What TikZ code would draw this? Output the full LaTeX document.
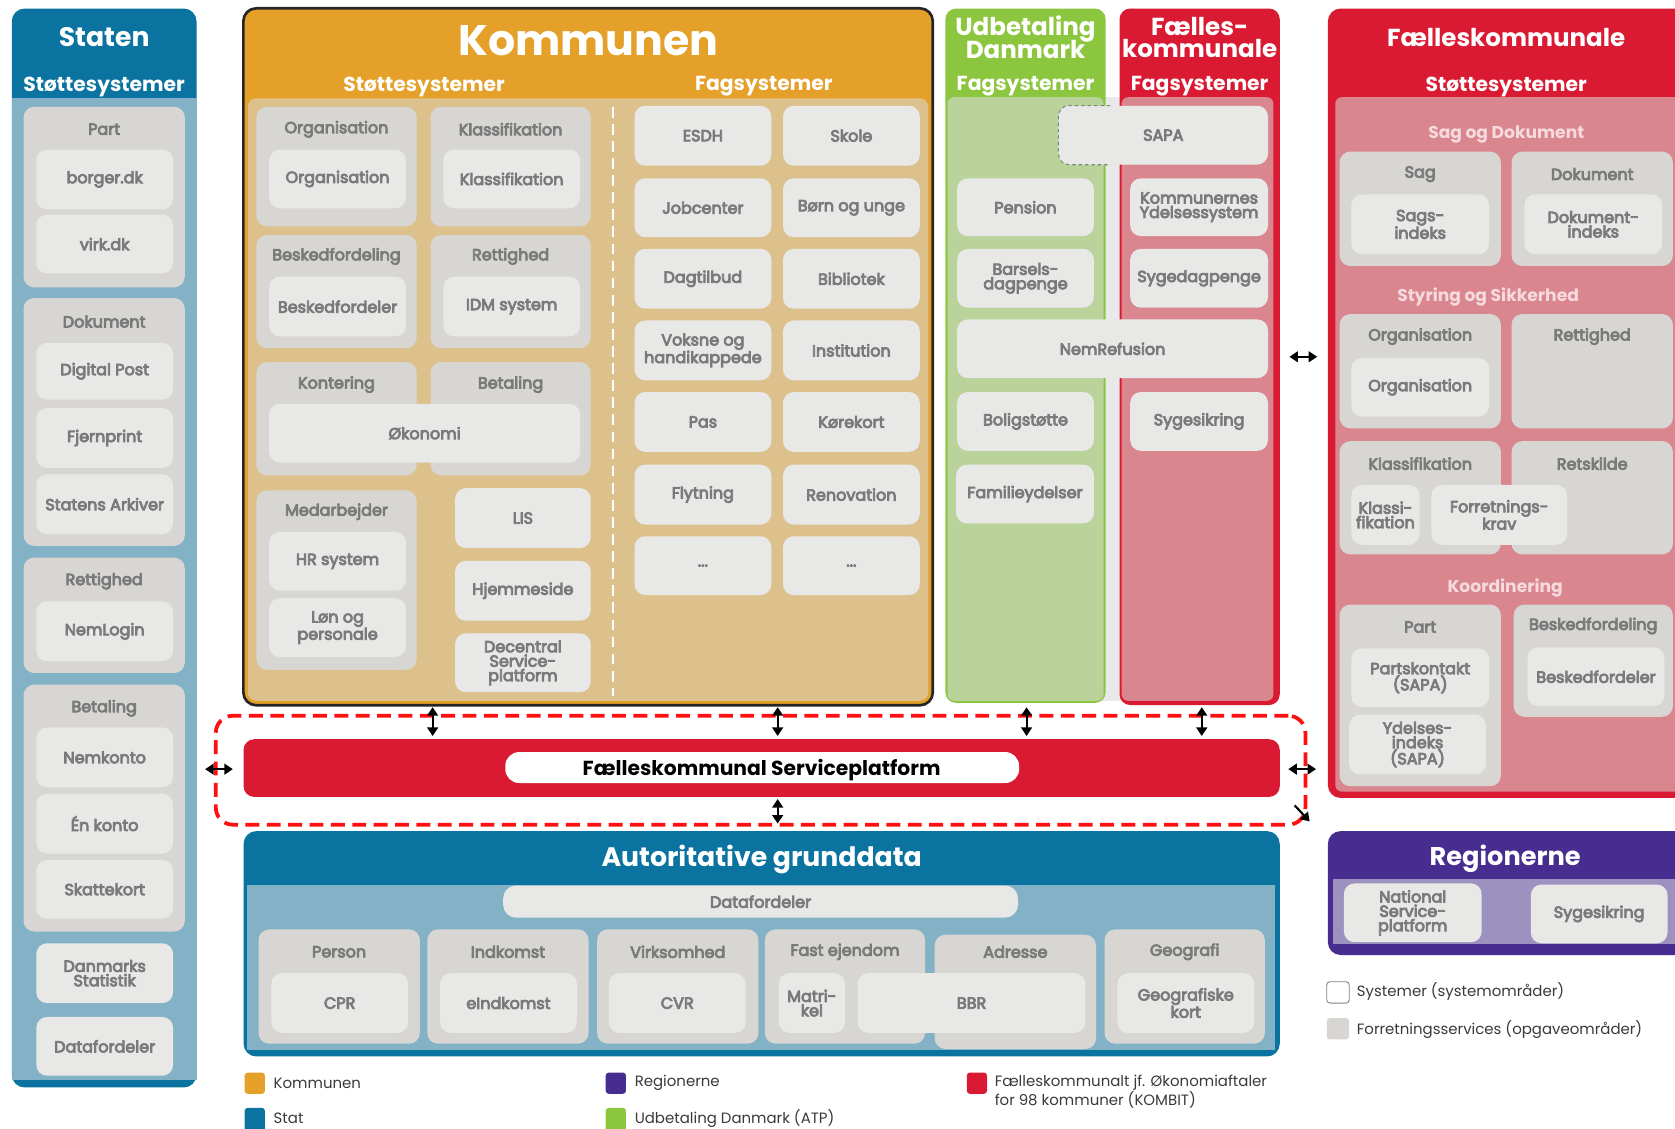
\documentclass[tikz,border=0pt]{standalone}
\usepackage{fontspec}
\setmainfont{Poppins}
\newfontfamily\lbf{Poppins}[FakeBold=5]
\usetikzlibrary{arrows.meta}
\definecolor{statdark}{HTML}{0B73A0}
\definecolor{statlight}{HTML}{83B2C6}
\definecolor{grp}{HTML}{D8D6D3}
\definecolor{inner}{HTML}{E8E8E7}
\definecolor{txtg}{HTML}{7A7A7A}
\definecolor{kor}{HTML}{E4A029}
\definecolor{ktan}{HTML}{DDC18D}
\definecolor{udg}{HTML}{8CC63F}
\definecolor{udl}{HTML}{B9D39A}
\definecolor{fred}{HTML}{DA1A32}
\definecolor{fpink}{HTML}{D9868F}
\definecolor{rpur}{HTML}{472D8F}
\definecolor{rlight}{HTML}{9D91C0}
\definecolor{dashred}{HTML}{FF1010}
\definecolor{gapg}{HTML}{E9E9E9}
\definecolor{sect}{HTML}{F6DADE}
\definecolor{legt}{HTML}{3A3A3A}
\tikzset{
  plain/.style={inner sep=0pt},
  grpbox/.style={fill=grp, rounded corners=10pt, inner sep=0pt},
  inbox/.style={fill=inner, rounded corners=10pt, inner sep=0pt, text=txtg,
    font=\lbf\fontsize{15}{13.5}\selectfont, align=center},
  glabel/.style={text=txtg, font=\lbf\fontsize{15}{15}\selectfont, inner sep=0pt},
  ttl/.style={text=white, font=\bfseries\fontsize{#1}{#1}\selectfont, inner sep=0pt, align=center},
  sectl/.style={text=sect, font=\bfseries\fontsize{16}{16}\selectfont, inner sep=0pt},
  legtxt/.style={text=legt, font=\fontsize{14}{18}\selectfont, inner sep=0pt, anchor=west, align=left},
  legsq/.style={rounded corners=3pt, inner sep=0pt},
  dbl/.style={{Triangle[length=8pt,width=10pt]}-{Triangle[length=8pt,width=10pt]}, line width=2pt, black},
  sgl/.style={-{Triangle[length=8pt,width=10pt]}, line width=2pt, black},
}
\newcommand\bx[7]{\node[#1,minimum width={(#5)*1pt-(#3)*1pt},minimum height={(#6)*1pt-(#4)*1pt}] (#2) at ({((#3)+(#5))/2},{((#4)+(#6))/2}) {#7};}
\newcommand\grp[7]{\bx{grpbox}{#1}{#2}{#3}{#4}{#5}{}\node[glabel] (#1l) at ({((#2)+(#4))/2},#6) {#7};}
\begin{document}
\begin{tikzpicture}[x=1pt,y=-1pt]
\useasboundingbox (0,0) rectangle (1568,1056);
\clip (0,0) rectangle (1568,1056);
\fill[white] (0,0) rectangle (1568,1056);

% ---------------- Staten
\bx{fill=statdark,rounded corners=12pt,plain}{staten}{11}{8}{184}{1018}{}
\bx{fill=statlight,plain}{statenp}{11}{92}{184}{1011}{}
\node[ttl=25] (statent) at (97.5,35) {Staten};
\node[ttl=19] (statens) at (97.5,81) {Støttesystemer};
\grp{spart}{22}{100}{173}{269}{121}{Part}
\bx{inbox}{borger}{34}{140}{162}{196}{borger.dk}
\bx{inbox}{virk}{34}{201}{162}{256}{virk.dk}
\grp{sdok}{22}{279}{173}{511}{301}{Dokument}
\bx{inbox}{dpost}{34}{321}{162}{374}{Digital Post}
\bx{inbox}{fjern}{34}{382}{162}{438}{Fjernprint}
\bx{inbox}{sark}{34}{444}{162}{500}{Statens Arkiver}
\grp{sret}{22}{522}{173}{630}{544}{Rettighed}
\bx{inbox}{nemlog}{34}{563}{162}{619}{NemLogin}
\grp{sbet}{22}{641}{173}{872}{663}{Betaling}
\bx{inbox}{nemk}{34}{681}{162}{737}{Nemkonto}
\bx{inbox}{enk}{34}{743}{162}{799}{Én konto}
\bx{inbox}{skat}{34}{805}{162}{860}{Skattekort}
\bx{inbox}{dst}{34}{883}{162}{939}{Danmarks\\Statistik}
\bx{inbox}{sdf}{34}{952}{162}{1007}{Datafordeler}

% ---------------- Kommunen
\bx{fill=kor,rounded corners=12pt,plain}{kommunen}{228}{8}{873}{660}{}
\bx{fill=ktan,rounded corners=8pt,plain}{kpanel}{232}{92}{869}{656}{}
\draw[line width=2.5pt, black!85, rounded corners=12pt] (kommunen.north west) rectangle (kommunen.south east);
\node[ttl=40] (kommt) at (551,38) {Kommunen};
\node[ttl=19] (komms) at (397,81) {Støttesystemer};
\node[ttl=19] (kommf) at (715,81) {Fagsystemer};
\coordinate (divt) at (574,100);
\coordinate (divb) at (574,652);
\draw[white, line width=2pt, dash pattern=on 10pt off 6pt] (divt) -- (divb);
\grp{korg}{240}{100}{390}{212}{121}{Organisation}
\bx{inbox}{korgi}{252}{140}{380}{195}{Organisation}
\grp{kkla}{403}{100}{553}{212}{121}{Klassifikation}
\bx{inbox}{kklai}{415}{140}{543}{195}{Klassifikation}
\grp{kbesk}{240}{220}{390}{326}{240}{Beskedfordeling}
\bx{inbox}{kbeski}{252}{259}{380}{315}{Beskedfordeler}
\grp{kret}{403}{220}{553}{326}{240}{Rettighed}
\bx{inbox}{kreti}{415}{259}{543}{315}{IDM system}
\grp{kkont}{240}{339}{390}{445}{360}{Kontering}
\grp{kbet}{403}{339}{553}{445}{360}{Betaling}
\bx{inbox}{koko}{252}{378}{543}{433}{Økonomi}
\grp{kmed}{240}{459}{390}{627}{479}{Medarbejder}
\bx{inbox}{khr}{252}{498}{380}{553}{HR system}
\bx{inbox}{klon}{252}{560}{380}{615}{Løn og\\personale}
\bx{inbox}{klis}{426}{457}{553}{513}{LIS}
\bx{inbox}{khj}{426}{525}{553}{581}{Hjemmeside}
\bx{inbox}{kdsp}{426}{593}{553}{648}{Decentral\\Service-\\platform}
% Fagsystemer
\bx{inbox}{esdh}{594}{99}{722}{155}{ESDH}
\bx{inbox}{skole}{733}{99}{861}{155}{Skole}
\bx{inbox}{jobc}{594}{167}{722}{222}{Jobcenter}
\bx{inbox}{born}{733}{167}{861}{222}{Børn og unge}
\bx{inbox}{dagt}{594}{233}{722}{289}{Dagtilbud}
\bx{inbox}{bibl}{733}{233}{861}{289}{Bibliotek}
\bx{inbox}{voks}{594}{300}{722}{356}{Voksne og\\handikappede}
\bx{inbox}{inst}{733}{300}{861}{356}{Institution}
\bx{inbox}{pas}{594}{367}{722}{423}{Pas}
\bx{inbox}{kore}{733}{367}{861}{423}{Kørekort}
\bx{inbox}{flyt}{594}{435}{722}{491}{Flytning}
\bx{inbox}{reno}{733}{435}{861}{491}{Renovation}
\bx{inbox}{dots1}{594}{502}{722}{557}{...}
\bx{inbox}{dots2}{733}{502}{861}{557}{...}

% ---------------- Udbetaling Danmark
\bx{fill=gapg,plain}{gap}{1030}{91}{1054}{656}{}
\bx{fill=udg,rounded corners=10pt,plain}{udb}{885}{8}{1035}{658}{}
\bx{fill=udl,rounded corners=6pt,plain}{udbp}{887}{91}{1033}{656}{}
\node[ttl=23] (udbt) at (960,35) {Udbetaling\\[-3pt]Danmark};
\node[ttl=19] (udbs) at (960,81) {Fagsystemer};
% ---------------- Fælleskommunale fagsystemer
\bx{fill=fred,rounded corners=10pt,plain}{fkf}{1048}{8}{1198}{660}{}
\bx{fill=fpink,rounded corners=6pt,plain}{fkfp}{1050}{91}{1192}{656}{}
\node[ttl=23] (fkft) at (1123,35) {Fælles-\\[-3pt]kommunale};
\node[ttl=19] (fkfs) at (1123,81) {Fagsystemer};
\bx{inbox}{sapa}{991}{99}{1187}{154}{SAPA}
\begin{scope}
  \clip (985,90) rectangle (1040,160);
  \draw[dashed, gray, line width=1pt, rounded corners=10pt] (sapa.north west) rectangle (sapa.south east);
\end{scope}
\bx{inbox}{pens}{896}{167}{1024}{221}{Pension}
\bx{inbox}{bars}{896}{233}{1024}{288}{Barsels-\\dagpenge}
\bx{inbox}{nemref}{896}{299}{1187}{354}{NemRefusion}
\bx{inbox}{bolig}{896}{367}{1024}{422}{Boligstøtte}
\bx{inbox}{famy}{895}{435}{1024}{490}{Familieydelser}
\bx{inbox}{kys}{1058}{167}{1187}{221}{Kommunernes\\Ydelsessystem}
\bx{inbox}{sygd}{1058}{233}{1187}{288}{Sygedagpenge}
\bx{inbox}{sygs}{1058}{367}{1187}{422}{Sygesikring}

% ---------------- Fælleskommunale støttesystemer
\bx{fill=fred,rounded corners=12pt,plain}{fks}{1243}{8}{1600}{747}{}
\bx{fill=fpink,rounded corners=6pt,plain}{fksp}{1250}{91}{1600}{741}{}
\node[ttl=23] (fkst) at (1410,35) {Fælleskommunale};
\node[ttl=19] (fkss) at (1410,81) {Støttesystemer};
\node[sectl] (sagdok) at (1410,126) {Sag og Dokument};
\grp{fsag}{1254}{142}{1405}{249}{163}{Sag}
\bx{inbox}{fsagi}{1265}{182}{1394}{238}{Sags-\\indeks}
\grp{fdok}{1415}{142}{1566}{249}{163}{Dokument}
\bx{inbox}{fdoki}{1427}{182}{1556}{238}{Dokument-\\indeks}
\node[sectl] (stysik) at (1393,278) {Styring og Sikkerhed};
\grp{forg}{1254}{294}{1405}{401}{315}{Organisation}
\bx{inbox}{forgi}{1265}{335}{1394}{390}{Organisation}
\grp{fret}{1415}{294}{1566}{401}{315}{Rettighed}
\grp{fkla}{1254}{413}{1405}{519}{434}{Klassifikation}
\grp{frets}{1415}{413}{1566}{519}{434}{Retskilde}
\bx{inbox}{fklai}{1265}{454}{1329}{510}{Klassi-\\fikation}
\bx{inbox}{fforr}{1340}{454}{1467}{510}{Forretnings-\\krav}
\node[sectl] (koord) at (1409,550) {Koordinering};
\grp{fpart}{1254}{566}{1405}{736}{587}{Part}
\bx{inbox}{fpk}{1265}{607}{1394}{662}{Partskontakt\\(SAPA)}
\bx{inbox}{fyi}{1263}{669}{1391}{725}{Ydelses-\\indeks\\(SAPA)}
\grp{fbesk}{1417}{566}{1566}{671}{586}{Beskedfordeling}
\bx{inbox}{fbeski}{1430}{606}{1558}{661}{Beskedfordeler}

% ---------------- Regionerne
\bx{fill=rpur,rounded corners=12pt,plain}{reg}{1243}{778}{1600}{894}{}
\bx{fill=rlight,plain}{regp}{1248}{823}{1600}{884}{}
\node[ttl=24] (regt) at (1409,804) {Regionerne};
\bx{inbox}{nsp}{1258}{827}{1387}{882}{National\\Service-\\platform}
\bx{inbox}{rsyg}{1433}{828}{1561}{883}{Sygesikring}

% legend right
\bx{legsq,draw=gray,line width=0.8pt,fill=white}{lsys}{1242}{919}{1263}{939}{}
\node[legtxt] (lsyst) at (1270,928) {Systemer (systemområder)};
\bx{legsq,fill=grp}{lfor}{1242}{953}{1263}{973}{}
\node[legtxt] (lfort) at (1270,964) {Forretningsservices (opgaveområder)};

% ---------------- Serviceplatform
\bx{draw=dashred,line width=3.5pt,dash pattern=on 13pt off 7pt,rounded corners=16pt,plain}{fspd}{202}{670}{1222}{772}{}
\bx{fill=fred,rounded corners=10pt,plain}{fsp}{228}{692}{1198}{746}{}
\bx{fill=white,rounded corners=13pt,plain}{fspi}{473}{704}{954}{733}{}
\node[inner sep=0pt,font=\bfseries\fontsize{19}{19}\selectfont] (fspt) at (713,721) {Fælleskommunal Serviceplatform};

% arrows
\coordinate (a1t) at (405,662); \coordinate (a1b) at (405,689);
\coordinate (a2t) at (728,662); \coordinate (a2b) at (728,689);
\coordinate (a3t) at (961,662); \coordinate (a3b) at (961,689);
\coordinate (a4t) at (1125,662); \coordinate (a4b) at (1125,689);
\draw[dbl] (a1t) -- (a1b);
\draw[dbl] (a2t) -- (a2b);
\draw[dbl] (a3t) -- (a3b);
\draw[dbl] (a4t) -- (a4b);
\coordinate (a5t) at (728,748); \coordinate (a5b) at (728,771);
\draw[dbl] (a5t) -- (a5b);
\coordinate (a6l) at (192,720); \coordinate (a6r) at (218,720);
\draw[dbl] (a6l) -- (a6r);
\coordinate (a7l) at (1206,720); \coordinate (a7r) at (1232,720);
\draw[dbl] (a7l) -- (a7r);
\coordinate (a8l) at (1207,334); \coordinate (a8r) at (1233,334);
\draw[dbl] (a8l) -- (a8r);
\coordinate (a9s) at (1212,754); \coordinate (a9e) at (1226,769);
\draw[sgl] (a9s) -- (a9e);

% ---------------- Autoritative grunddata
\bx{fill=statdark,rounded corners=12pt,plain}{agd}{228}{778}{1198}{989}{}
\bx{fill=statlight,plain}{agdp}{231}{828}{1194}{983}{}
\node[ttl=25] (agdt) at (713,805) {Autoritative grunddata};
\bx{inbox,rounded corners=12pt}{adf}{471}{829}{953}{859}{Datafordeler}
\grp{gper}{242}{870}{393}{977}{891}{Person}
\grp{gind}{400}{870}{551}{977}{891}{Indkomst}
\grp{gvir}{559}{870}{710}{977}{891}{Virksomhed}
\grp{gfast}{716}{870}{866}{977}{891}{Fast ejendom}
\grp{gadr}{875}{875}{1026}{982}{891}{Adresse}
\grp{ggeo}{1034}{870}{1184}{977}{891}{Geografi}
\bx{inbox}{cpr}{254}{911}{382}{967}{CPR}
\bx{inbox}{eink}{412}{911}{540}{967}{eIndkomst}
\bx{inbox}{cvr}{570}{911}{698}{967}{CVR}
\bx{inbox}{matr}{729}{911}{791}{967}{Matri-\\kel}
\bx{inbox}{bbr}{803}{911}{1016}{967}{BBR}
\bx{inbox}{geok}{1046}{911}{1174}{967}{Geografiske\\kort}

% ---------------- legend bottom
\bx{legsq,fill=kor}{lkom}{229}{1004}{248}{1024}{}
\node[legtxt] (lkomt) at (256,1014) {Kommunen};
\bx{legsq,fill=statdark}{lstat}{229}{1037}{248}{1062}{}
\node[legtxt] (lstatt) at (256,1047) {Stat};
\bx{legsq,fill=rpur}{lreg}{567}{1004}{586}{1024}{}
\node[legtxt] (lregt) at (594,1014) {Regionerne};
\bx{legsq,fill=udg}{ludb}{567}{1037}{586}{1062}{}
\node[legtxt] (ludbt) at (594,1047) {Udbetaling Danmark (ATP)};
\bx{legsq,fill=fred}{lfk}{905}{1004}{924}{1024}{}
\node[legtxt,anchor=north west] (lfkt) at (931,1006) {Fælleskommunalt jf. Økonomiaftaler\\for 98 kommuner (KOMBIT)};
\end{tikzpicture}
\end{document}
